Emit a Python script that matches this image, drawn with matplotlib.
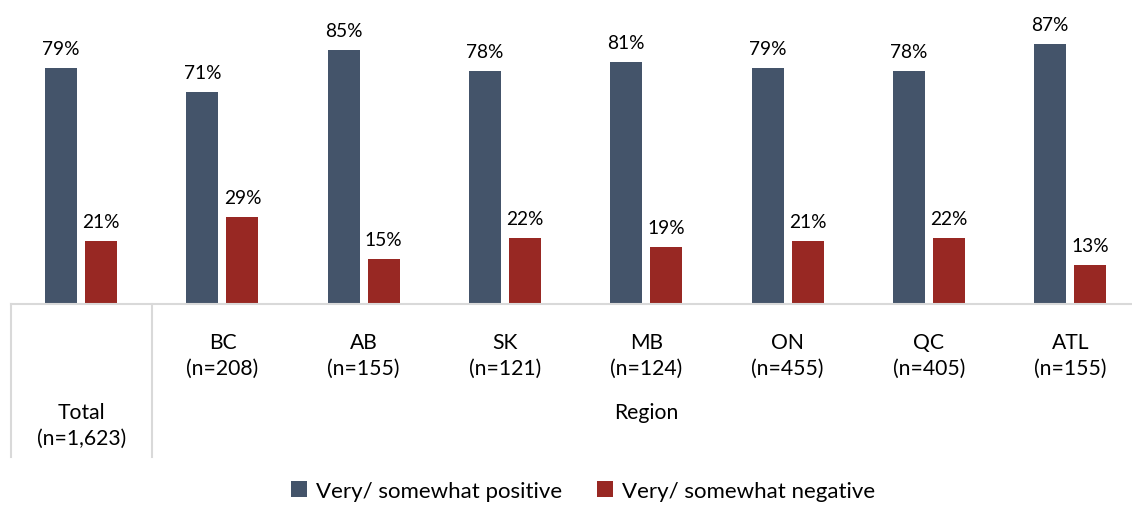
import matplotlib
matplotlib.use("Agg")
import matplotlib.pyplot as plt
from matplotlib.lines import Line2D
from matplotlib.transforms import blended_transform_factory
import numpy as np

categories = ["Total\n(n=1,623)", "BC\n(n=208)", "AB\n(n=155)", "SK\n(n=121)",
              "MB\n(n=124)", "ON\n(n=455)", "QC\n(n=405)", "ATL\n(n=155)"]
positive = [79, 71, 85, 78, 81, 79, 78, 87]
negative = [21, 29, 15, 22, 19, 21, 22, 13]
series_names = ["Very/ somewhat positive", "Very/ somewhat negative"]
group_label = "Region"

NAVY = "#44546A"
RED = "#982823"
GRID = "#D9D9D9"
FS = 13.8
FS_TICK = 15.2
FS_LEG = 16

plt.rcParams['font.family'] = ['Lato', 'DejaVu Sans']

W, H = 1132, 506
fig = plt.figure(figsize=(W / 100, H / 100), dpi=100)
step = 141.3
x0 = 10.5
base_y = 305
top_y = 6
ax = fig.add_axes([x0 / W, (H - base_y) / H, 8 * step / W, (base_y - top_y) / H])

x = np.arange(len(categories))
bw = 0.226
off = 0.1415
b1 = ax.bar(x - off, positive, bw, color=NAVY, label=series_names[0])
b2 = ax.bar(x + off, negative, bw, color=RED, label=series_names[1])
for bars, vals in ((b1, positive), (b2, negative)):
    for r, v in zip(bars, vals):
        ax.annotate(f"{v}%", (r.get_x() + r.get_width() / 2, v), xytext=(0, 8),
                    textcoords="offset points", ha="center", va="bottom",
                    fontsize=FS, color="#000000")

ax.set_xlim(-0.5, len(categories) - 0.5)
ax.set_ylim(0, 100)
ax.set_xticks([])
ax.set_yticks([])
for s in ("top", "left", "right"):
    ax.spines[s].set_visible(False)
ax.spines["bottom"].set_color(GRID)
ax.spines["bottom"].set_linewidth(1.5)

trans = blended_transform_factory(ax.transData, fig.transFigure)
for i, c in enumerate(categories):
    if i == 0:
        ax.text(i, 1 - 426 / H, c, transform=trans, ha="center", va="center",
                fontsize=FS_TICK, linespacing=1.4)
    else:
        ax.text(i, 1 - 356 / H, c, transform=trans, ha="center", va="center",
                fontsize=FS_TICK, linespacing=1.4)
ax.text((1 + len(categories) - 1) / 2, 1 - 413 / H, group_label, transform=trans,
        ha="center", va="center", fontsize=FS_TICK)

for xv in (-0.5, 0.5):
    fig.add_artist(Line2D([ax.transData.transform((xv, 0))[0] / W] * 2,
                          [(H - base_y) / H, (H - 458) / H],
                          color=GRID, linewidth=1.5, transform=fig.transFigure))

fig.legend(handles=[b1, b2], labels=series_names, loc="center",
           bbox_to_anchor=(583 / W, 1 - 492 / H), ncol=2, frameon=False,
           fontsize=FS_LEG, handlelength=0.7, handleheight=0.7, columnspacing=1.6,
           handletextpad=0.4, borderpad=0, borderaxespad=0)

fig.savefig("out.png", dpi=100)
